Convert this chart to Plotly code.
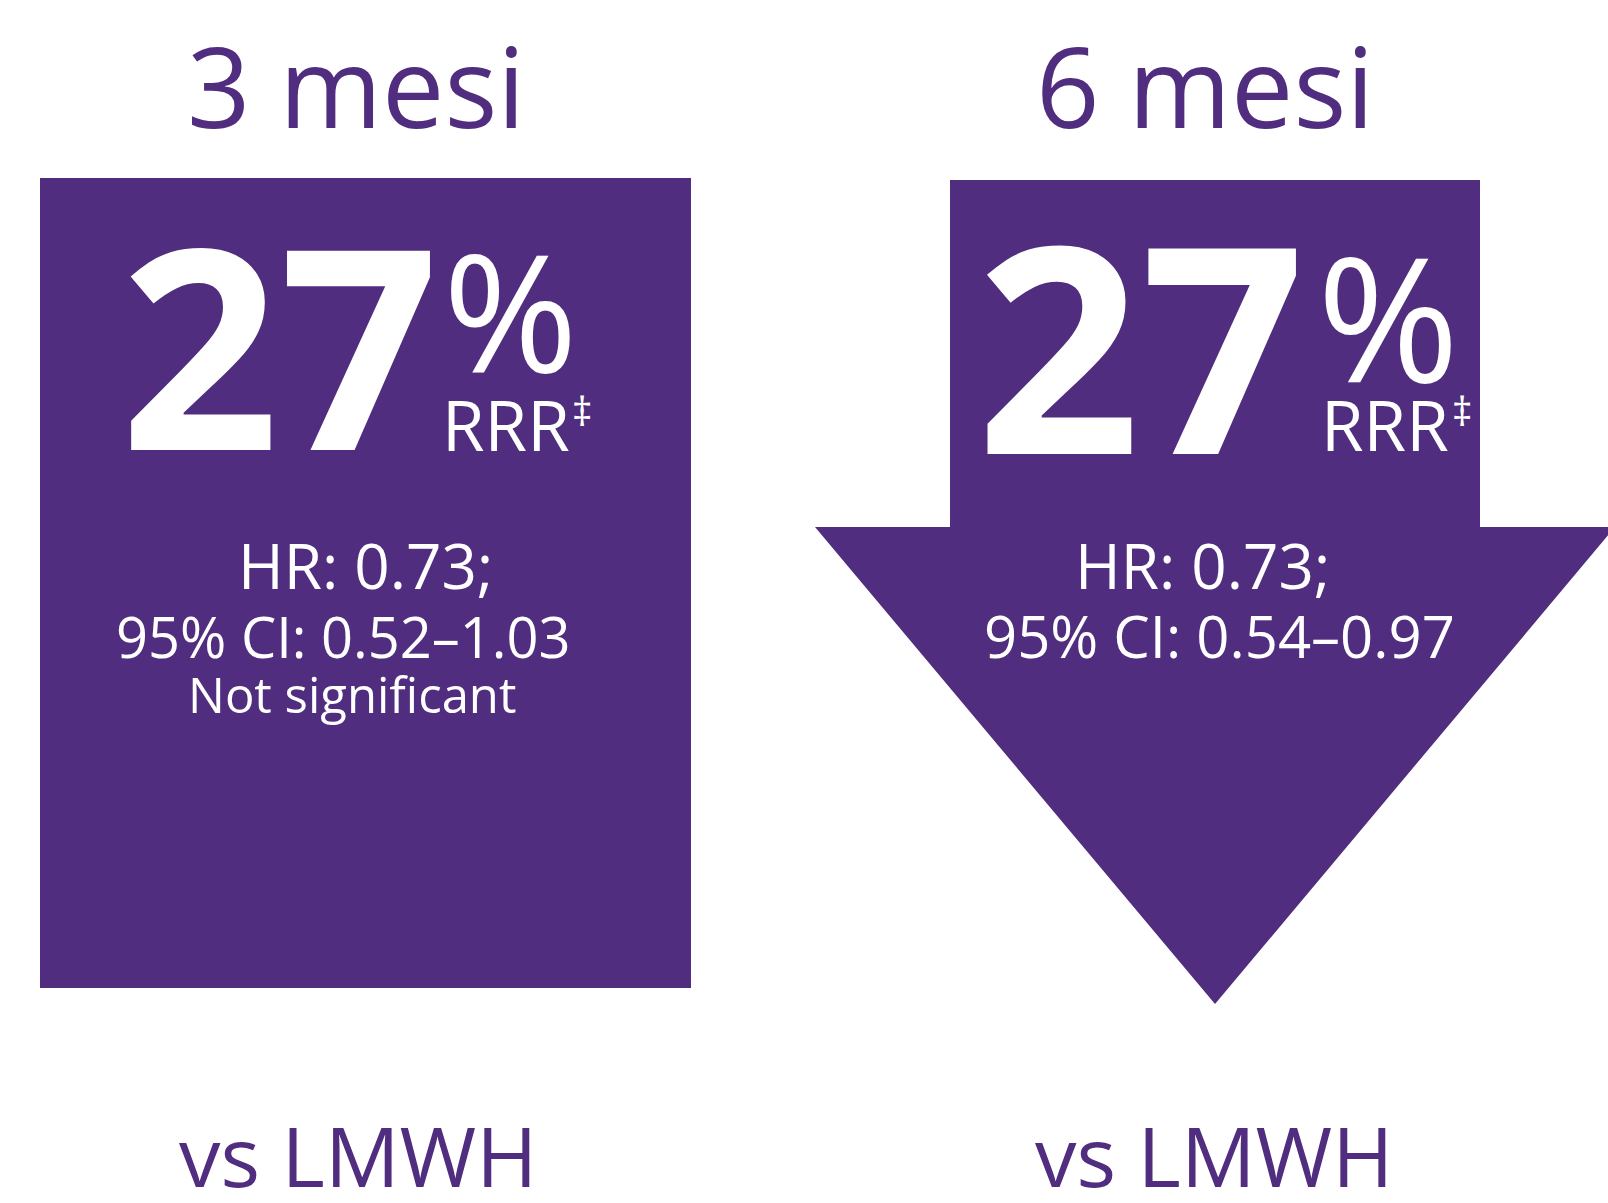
import plotly.graph_objects as go

# ---------------- data ----------------
periods = ["3 mesi", "6 mesi"]
rrr_values = [27, 27]
rrr_label = ["RRR", "RRR"]
rrr_mark = ["‡", "‡"]
hr_values = [0.73, 0.73]
ci_low = [0.52, 0.54]
ci_high = [1.03, 0.97]
notes = ["Not significant", ""]
comparator = ["vs LMWH", "vs LMWH"]

PURPLE = "#502D7E"
W, H = 1608, 1203

fig = go.Figure()
fig.update_xaxes(range=[0, W], visible=False, fixedrange=True)
fig.update_yaxes(range=[H, 0], visible=False, fixedrange=True)

# ---------------- shapes: box (3 months) and arrow (6 months) ----------------
shapes = [
    dict(type="rect", xref="x", yref="y", x0=40, x1=691, y0=178, y1=988,
         fillcolor=PURPLE, line=dict(width=0), layer="below"),
    dict(type="path", xref="x", yref="y",
         path="M 950 180 L 1480 180 L 1480 527 L 1615 527 L 1215 1004 L 815 527 L 950 527 Z",
         fillcolor=PURPLE, line=dict(width=0), layer="below"),
]

# ---------------- layout constants per panel ----------------
title_x = [356, 1205]
big_x = [279, 1140]
big_size = [279, 288]
pct_x = [510, 1387.5]
pct_y = [309, 315]
pct_size = [163, 172]
rrr_x = [440, 1319]
mark_x = [581.5, 1461.5]
hr_x = [365.5, 1202.5]
ci_x = [343.5, 1219]
ci_size = [56, 58]
note_x = [351.5, 1211]
comp_x = [358, 1214]

OS = "Open Sans"
anns = []


def add(x, y, text, size, color, weight=400, xanchor="center"):
    anns.append(dict(x=x, y=y, xref="x", yref="y", text=text, showarrow=False,
                     xanchor=xanchor, yanchor="middle",
                     font=dict(family=OS, size=size, color=color, weight=weight)))


for i in range(2):
    add(title_x[i], 85, periods[i], 111, PURPLE)
    add(big_x[i], 342, str(rrr_values[i]), big_size[i], "white", weight=700)
    add(pct_x[i], pct_y[i], "%", pct_size[i], "white")
    add(rrr_x[i], 424, rrr_label[i], 69, "white", xanchor="left")
    add(mark_x[i], 410, rrr_mark[i], 40, "white")
    add(hr_x[i], 565, f"HR: {hr_values[i]:.2f};", 62, "white")
    add(ci_x[i], 635.5, f"95% CI: {ci_low[i]:.2f}–{ci_high[i]:.2f}", ci_size[i], "white")
    if notes[i]:
        add(note_x[i], 694, notes[i], 49, "white")
    add(comp_x[i], 1154, comparator[i], 83, PURPLE)

fig.update_layout(width=W, height=H, margin=dict(l=0, r=0, t=0, b=0, pad=0),
                  plot_bgcolor="white", paper_bgcolor="white",
                  shapes=shapes, annotations=anns, showlegend=False)

fig.write_html("out.html", config={"displayModeBar": False},
               post_script="document.body.style.margin='0';")
